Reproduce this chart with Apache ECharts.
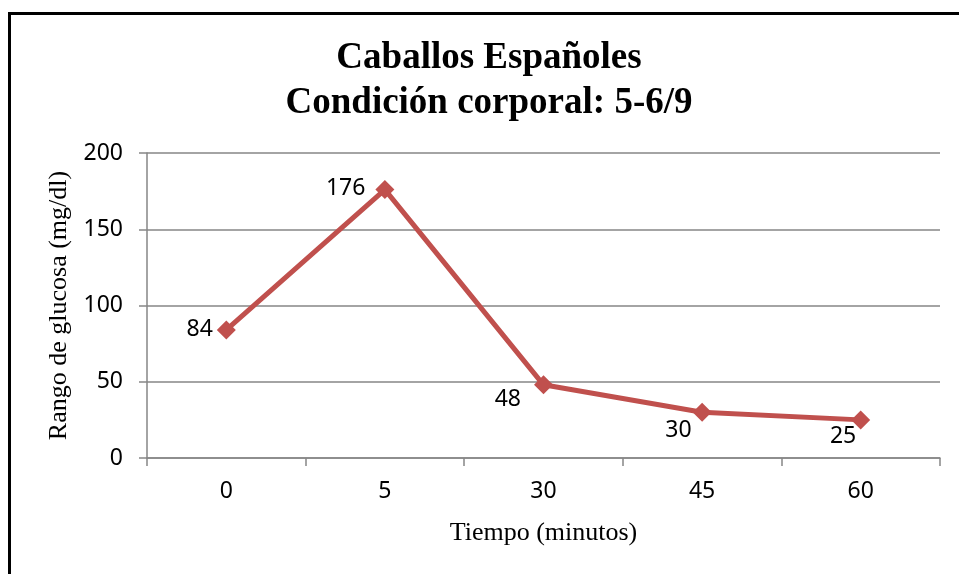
<!DOCTYPE html>
<html>
<head>
<meta charset="utf-8">
<style>
  html, body { margin: 0; padding: 0; background: #ffffff; }
  #chart { width: 959px; height: 574px; }
</style>
<script src="https://cdn.jsdelivr.net/npm/echarts@6/dist/echarts.min.js"></script>
</head>
<body>
<div id="chart"></div>
<script>
// Glucose range over time
const categories = ['0', '5', '30', '45', '60'];
const glucose = [84, 176, 48, 30, 25];
const yTicks = { min: 0, max: 200, interval: 50 };

// per-point label placement (left of or below-left of the marker)
const labelOffsets = [[0, 0], [-6, -1], [-9, 15], [3, 18], [9, 17]];

const chart = echarts.init(document.getElementById('chart'), null, { renderer: 'canvas' });

const seriesData = glucose.map((v, i) => ({
  value: v,
  label: { offset: labelOffsets[i] }
}));

const tickFont = '"Noto Sans", "Open Sans", sans-serif';
const serifFont = '"Liberation Serif", "Times New Roman", serif';

chart.setOption({
  animation: false,
  backgroundColor: '#ffffff',
  title: {
    text: 'Caballos Españoles\nCondición corporal: 5-6/9',
    left: 489,
    textAlign: 'center',
    top: 36,
    padding: 0,
    textStyle: {
      fontFamily: serifFont,
      fontWeight: 'bold',
      fontSize: 37,
      lineHeight: 45,
      color: '#000000'
    }
  },
  graphic: [{
    type: 'rect',
    shape: { x: 9.5, y: 13.5, width: 1000, height: 600 },
    style: { fill: 'none', stroke: '#000000', lineWidth: 3 },
    silent: true,
    z: 100
  }],
  grid: { left: 147, right: 19, top: 153, bottom: 116 },
  xAxis: {
    type: 'category',
    data: categories,
    boundaryGap: true,
    name: 'Tiempo (minutos)',
    nameLocation: 'middle',
    nameGap: 62,
    nameTextStyle: { fontFamily: serifFont, fontSize: 26, color: '#000000' },
    axisLine: { show: true, lineStyle: { color: '#868686', width: 1.5 } },
    axisTick: { show: true, length: 8, lineStyle: { color: '#868686', width: 1.5 } },
    axisLabel: { margin: 22, fontFamily: tickFont, fontSize: 23, color: '#000000' },
    splitLine: { show: false }
  },
  yAxis: {
    type: 'value',
    min: yTicks.min,
    max: yTicks.max,
    interval: yTicks.interval,
    name: 'Rango de glucosa (mg/dl)',
    nameLocation: 'middle',
    nameGap: 69,
    nameTextStyle: { fontFamily: serifFont, fontSize: 26, color: '#000000' },
    axisLine: { show: true, lineStyle: { color: '#868686', width: 1.5 } },
    axisTick: { show: true, length: 8, lineStyle: { color: '#868686', width: 1.5 } },
    axisLabel: { margin: 24, fontFamily: tickFont, fontSize: 23, color: '#000000' },
    splitLine: { show: true, lineStyle: { color: '#868686', width: 1.5 } }
  },
  series: [{
    type: 'line',
    data: seriesData,
    symbol: 'diamond',
    symbolSize: 19,
    itemStyle: { color: '#C0504D' },
    lineStyle: { color: '#C0504D', width: 5 },
    label: {
      show: true,
      position: 'left',
      distance: 4,
      fontFamily: tickFont,
      fontSize: 23,
      color: '#000000'
    }
  }]
});
</script>
</body>
</html>
